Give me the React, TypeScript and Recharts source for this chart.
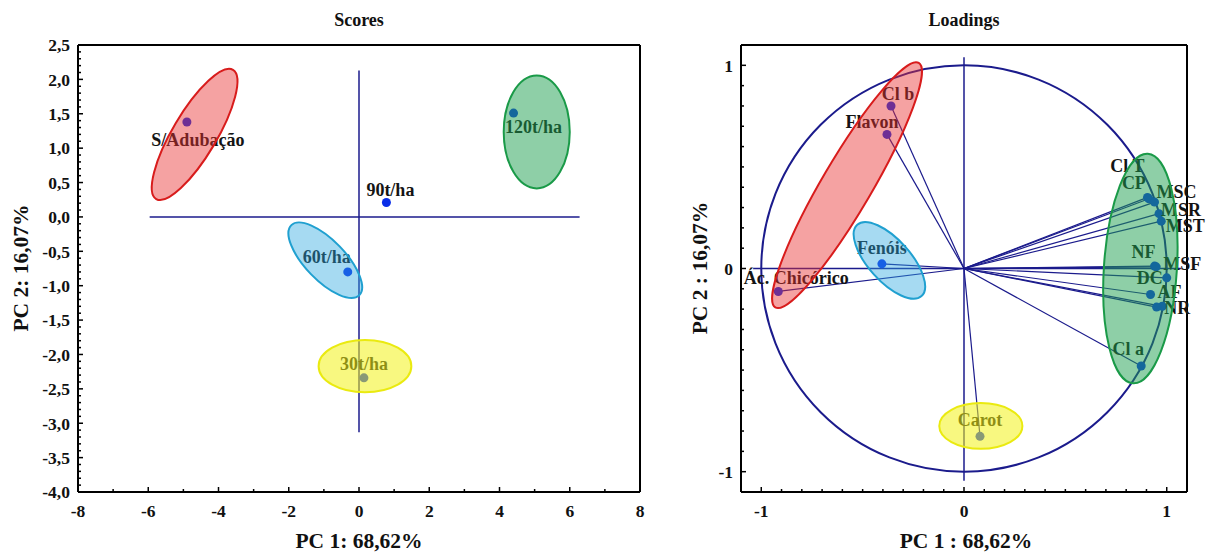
import React from 'react';
import { ScatterChart, Scatter, XAxis, YAxis, ReferenceLine, ReferenceArea } from 'recharts';

// ---- Scores (PC1 / PC2) ----
const scoreNames = ['S/Adubação', '30t/ha', '60t/ha', '90t/ha', '120t/ha'];
const scorePC1 = [-4.9, 0.14, -0.32, 0.78, 4.4];
const scorePC2 = [1.38, -2.34, -0.8, 0.21, 1.51];
const scoreXTicks = [-8, -6, -4, -2, 0, 2, 4, 6, 8];
const scoreYTicks = [2.5, 2, 1.5, 1, 0.5, 0, -0.5, -1, -1.5, -2, -2.5, -3, -3.5, -4];

// ---- Loadings ----
const loadingNames = ['Cl b', 'Flavon', 'Fenóis', 'Ác. Chicórico', 'Carot', 'Cl a', 'Cl T', 'CP', 'MSC', 'MSR', 'MST', 'NF', 'MSF', 'DC', 'AF', 'NR', ''];
const loadingPC1 = [-0.36, -0.38, -0.405, -0.916, 0.079, 0.874, 0.905, 0.912, 0.94, 0.962, 0.973, 0.94, 0.948, 1.0, 0.92, 0.978, 0.95];
const loadingPC2 = [0.8, 0.66, 0.023, -0.113, -0.826, -0.48, 0.35, 0.343, 0.327, 0.27, 0.233, 0.012, 0.008, -0.046, -0.128, -0.186, -0.19];
const loadingTicks = [-1, 0, 1];

// group ellipses: centre, half-extent (before tilt)
const scoreGroupCx = [-4.68, 5.06, -0.96, 0.17];
const scoreGroupCy = [1.2, 1.235, -0.63, -2.17];
const scoreGroupRx = [2.14, 0.94, 1.39, 1.32];
const scoreGroupRy = [0.32, 0.82, 0.29, 0.38];
const loadGroupCx = [-0.577, 0.87, -0.368, 0.083];
const loadGroupCy = [0.41, 0.0, 0.04, -0.775];
const loadGroupRx = [0.699, 0.18, 0.237, 0.205];
const loadGroupRy = [0.123, 0.566, 0.103, 0.1125];

// styles
const FONT = "'Liberation Serif', 'Times New Roman', serif";
const NAVY = '#1b1b8c';
const DOT = '#0a2ee8';
const TXT = '#141414';
const groupFill = ['#e83030', '#1ea050', '#2aa8e0', '#f2f218'];
const groupStroke = ['#d81c1c', '#1a9a48', '#20a0d0', '#eaea10'];
const groupOpacity = [0.45, 0.5, 0.42, 0.55];
const scoreGroupAngle = [-59.3, 0, 46, 0];
const loadGroupAngle = [-59.6, 3.7, 48, 0];

const scoreLabelOffset: Record<string, [number, number]> = {
  'S/Adubação': [11, 24],
  '120t/ha': [20, 20],
  '90t/ha': [4, -6],
  '60t/ha': [-21, -9],
  '30t/ha': [0, -8],
};
const loadLabelOffset: Record<string, [number, number]> = {
  'Cl b': [7, -6],
  Flavon: [-15, -6],
  'Fenóis': [0, -10],
  'Ác. Chicórico': [18, -7],
  Carot: [0, -10],
  'Cl a': [-13, -11],
  'Cl T': [-20, -25],
  CP: [-15, -10],
  MSC: [22, -4],
  MSR: [22, 2],
  MST: [24, 11],
  NF: [-11, -8],
  MSF: [26, 3],
  DC: [-17, 6],
  AF: [19, 3],
  NR: [15, 8],
};

const scoreData = scoreNames.map((name, i) => ({ name, x: scorePC1[i], y: scorePC2[i] }));
const loadingData = loadingNames.map((name, i) => ({ name, x: loadingPC1[i], y: loadingPC2[i] }));

const steps = (from: number, to: number, step: number) => {
  const out: number[] = [];
  const n = Math.round((to - from) / step);
  for (let i = 0; i <= n; i++) out.push(Math.round((from + i * step) * 1000) / 1000);
  return out;
};

const fmtComma = (v: number) => v.toFixed(1).replace('.', ',');
const fmtInt = (v: number) => String(v);

type Side = 'left' | 'bottom' | 'top' | 'right';

const tickText: React.CSSProperties = { fill: '#111', fontWeight: 700, fontFamily: FONT, fontSize: 17.5 };

const makeTick = (side: Side, labelled: number[], fmt: (v: number) => string, showText: boolean) => (p: any) => {
  const { x, y, payload } = p;
  const v = payload.value as number;
  const major = labelled.some((t) => Math.abs(t - v) < 1e-6);
  const len = major ? 5 : 3;
  let line;
  if (side === 'left') line = <line x1={x} y1={y} x2={x + len} y2={y} stroke="#000" strokeWidth={1.5} />;
  else if (side === 'right') line = <line x1={x} y1={y} x2={x - len} y2={y} stroke="#000" strokeWidth={1.5} />;
  else if (side === 'top') line = <line x1={x} y1={y} x2={x} y2={y + len} stroke="#000" strokeWidth={1.5} />;
  else line = <line x1={x} y1={y} x2={x} y2={y - len} stroke="#000" strokeWidth={1.5} />;
  let label = null;
  if (showText && major) {
    if (side === 'left')
      label = (
        <text x={x - 8} y={y} dy="0.36em" textAnchor="end" style={tickText}>
          {fmt(v)}
        </text>
      );
    else if (side === 'bottom')
      label = (
        <text x={x} y={y + 25} textAnchor="middle" style={tickText}>
          {fmt(v)}
        </text>
      );
  }
  return (
    <g>
      {line}
      {label}
    </g>
  );
};

const ellipseShape = (angle: number, fill: string, stroke: string, opacity: number) => (p: any) => {
  const w = Math.abs(p.width);
  const h = Math.abs(p.height);
  const cx = Math.min(p.x, p.x + p.width) + w / 2;
  const cy = Math.min(p.y, p.y + p.height) + h / 2;
  return (
    <ellipse
      cx={cx}
      cy={cy}
      rx={w / 2}
      ry={h / 2}
      transform={`rotate(${angle} ${cx} ${cy})`}
      fill={fill}
      fillOpacity={opacity}
      stroke={stroke}
      strokeWidth={2}
    />
  );
};

const pointShape = (offsets: Record<string, [number, number]>) => (p: any) => {
  const name = p.payload?.name as string;
  const off = offsets[name];
  return (
    <g>
      <circle cx={p.cx} cy={p.cy} r={4.5} fill={DOT} />
      {name && off ? (
        <text x={p.cx + off[0]} y={p.cy + off[1]} textAnchor="middle" style={{ fill: TXT, fontWeight: 700, fontFamily: FONT, fontSize: 18 }}>
          {name}
        </text>
      ) : null}
    </g>
  );
};

const titleStyle = (cx: number, cy: number, size: number): React.CSSProperties => ({
  position: 'absolute',
  left: cx - 150,
  top: cy - 13,
  width: 300,
  height: 26,
  lineHeight: '26px',
  textAlign: 'center',
  fontFamily: FONT,
  fontWeight: 'bold',
  fontSize: size,
  color: '#111',
  whiteSpace: 'nowrap',
});

const vTitleStyle = (cx: number, cy: number, size: number): React.CSSProperties => ({
  ...titleStyle(cx, cy, size),
  transform: 'rotate(-90deg)',
});

const frame = { stroke: '#000', strokeWidth: 2 };

function ScoresChart() {
  const yMinor = steps(-4, 2.5, 0.1);
  const xMinor = steps(-8, 8, 1);
  return (
    <ScatterChart width={660} height={554} margin={{ top: 44, right: 19, bottom: 61, left: 77 }}>
      <XAxis type="number" dataKey="x" domain={[-8, 8]} ticks={xMinor} interval={0} height={1} tickSize={0} tickMargin={0}
        tickLine={false} axisLine={frame} tick={makeTick('bottom', scoreXTicks, fmtInt, true)} />
      <XAxis xAxisId="top" orientation="top" type="number" domain={[-8, 8]} ticks={xMinor} interval={0} height={1} tickSize={0} tickMargin={0}
        tickLine={false} axisLine={frame} tick={makeTick('top', scoreXTicks, fmtInt, false)} />
      <YAxis type="number" dataKey="y" domain={[-4, 2.5]} ticks={yMinor} interval={0} width={1} tickSize={0} tickMargin={0}
        tickLine={false} axisLine={frame} tick={makeTick('left', scoreYTicks, fmtComma, true)} />
      <YAxis yAxisId="right" orientation="right" type="number" domain={[-4, 2.5]} ticks={yMinor} interval={0} width={1} tickSize={0} tickMargin={0}
        tickLine={false} axisLine={frame} tick={makeTick('right', scoreYTicks, fmtComma, false)} />
      <ReferenceLine segment={[{ x: -5.96, y: 0 }, { x: 6.28, y: 0 }]} stroke={NAVY} strokeWidth={1.5} ifOverflow="visible" />
      <ReferenceLine segment={[{ x: 0, y: 2.13 }, { x: 0, y: -3.13 }]} stroke={NAVY} strokeWidth={1.5} ifOverflow="visible" />
      <Scatter data={scoreData} isAnimationActive={false} shape={pointShape(scoreLabelOffset)} />
      {scoreGroupCx.map((cx, i) => (
        <ReferenceArea
          key={i}
          x1={cx - scoreGroupRx[i]}
          x2={cx + scoreGroupRx[i]}
          y1={scoreGroupCy[i] - scoreGroupRy[i]}
          y2={scoreGroupCy[i] + scoreGroupRy[i]}
          ifOverflow="visible"
          zIndex={700}
          shape={ellipseShape(scoreGroupAngle[i], groupFill[i], groupStroke[i], groupOpacity[i])}
        />
      ))}
    </ScatterChart>
  );
}

function LoadingsChart() {
  const minor = steps(-1.1, 1.1, 0.1);
  return (
    <ScatterChart width={534} height={554} margin={{ top: 44, right: 26, bottom: 61, left: 60 }}>
      <XAxis type="number" dataKey="x" domain={[-1.1, 1.1]} ticks={minor} interval={0} height={1} tickSize={0} tickMargin={0}
        tickLine={false} axisLine={frame} tick={makeTick('bottom', loadingTicks, fmtInt, true)} />
      <XAxis xAxisId="top" orientation="top" type="number" domain={[-1.1, 1.1]} ticks={minor} interval={0} height={1} tickSize={0} tickMargin={0}
        tickLine={false} axisLine={frame} tick={makeTick('top', loadingTicks, fmtInt, false)} />
      <YAxis type="number" dataKey="y" domain={[-1.1, 1.1]} ticks={minor} interval={0} width={1} tickSize={0} tickMargin={0}
        tickLine={false} axisLine={frame} tick={makeTick('left', loadingTicks, fmtInt, true)} />
      <YAxis yAxisId="right" orientation="right" type="number" domain={[-1.1, 1.1]} ticks={minor} interval={0} width={1} tickSize={0} tickMargin={0}
        tickLine={false} axisLine={frame} tick={makeTick('right', loadingTicks, fmtInt, false)} />
      <ReferenceArea x1={-1} x2={1} y1={-1} y2={1} ifOverflow="visible" shape={ellipseShape(0, 'none', NAVY, 0)} />
      <ReferenceLine segment={[{ x: -1.04, y: 0 }, { x: 1.07, y: 0 }]} stroke={NAVY} strokeWidth={1.5} ifOverflow="visible" />
      <ReferenceLine segment={[{ x: 0, y: 1.04 }, { x: 0, y: -1.045 }]} stroke={NAVY} strokeWidth={1.5} ifOverflow="visible" />
      {loadingData.map((d, i) => (
        <ReferenceLine key={'v' + i} segment={[{ x: 0, y: 0 }, { x: d.x, y: d.y }]} stroke={NAVY} strokeWidth={1.2} ifOverflow="visible" />
      ))}
      <Scatter data={loadingData} isAnimationActive={false} shape={pointShape(loadLabelOffset)} />
      {loadGroupCx.map((cx, i) => (
        <ReferenceArea
          key={i}
          x1={cx - loadGroupRx[i]}
          x2={cx + loadGroupRx[i]}
          y1={loadGroupCy[i] - loadGroupRy[i]}
          y2={loadGroupCy[i] + loadGroupRy[i]}
          ifOverflow="visible"
          zIndex={700}
          shape={ellipseShape(loadGroupAngle[i], groupFill[i], groupStroke[i], groupOpacity[i])}
        />
      ))}
    </ScatterChart>
  );
}

export default function App() {
  return (
    <div style={{ position: 'absolute', left: 0, top: 0, width: 1214, height: 554, background: '#fff', overflow: 'hidden' }}>
      <div style={{ position: 'absolute', left: 0, top: 0 }}>
        <ScoresChart />
      </div>
      <div style={{ position: 'absolute', left: 680, top: 0 }}>
        <LoadingsChart />
      </div>
      <div style={titleStyle(359, 20, 18)}>Scores</div>
      <div style={titleStyle(964, 20, 18)}>Loadings</div>
      <div style={titleStyle(359, 541, 21.5)}>PC 1: 68,62%</div>
      <div style={titleStyle(966, 541, 21.5)}>PC 1 : 68,62%</div>
      <div style={vTitleStyle(21, 268, 21.5)}>PC 2: 16,07%</div>
      <div style={vTitleStyle(700, 268, 21.5)}>PC 2 : 16,07%</div>
    </div>
  );
}
